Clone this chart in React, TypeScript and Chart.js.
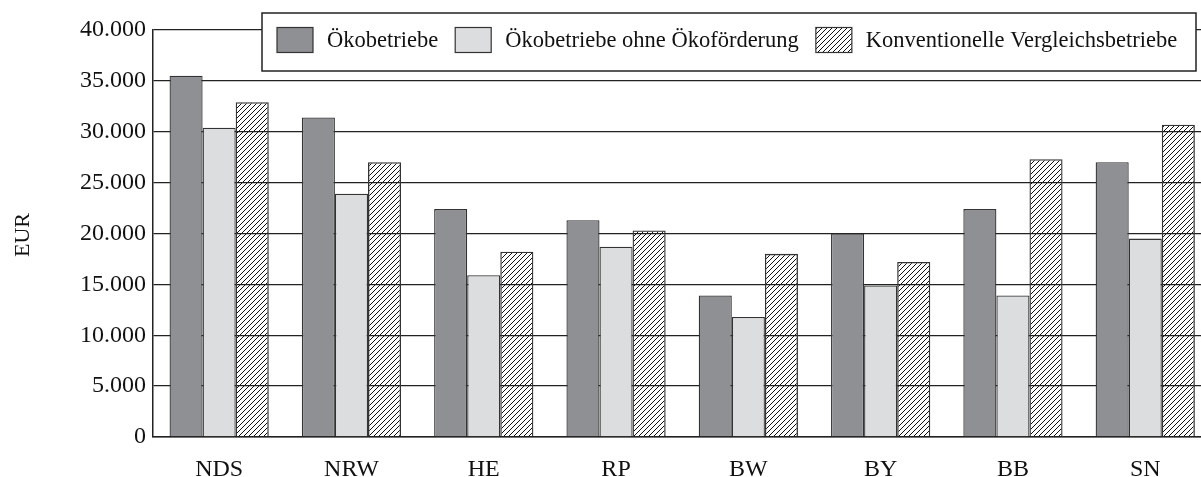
import React, { useEffect, useRef } from "react";
import { Chart, registerables } from "chart.js";

Chart.register(...registerables);

const categories = ["NDS", "NRW", "HE", "RP", "BW", "BY", "BB", "SN"];
const seriesLabels = [
  "Ökobetriebe",
  "Ökobetriebe ohne Ökoförderung",
  "Konventionelle Vergleichsbetriebe",
];
const oeko = [35500, 31400, 22400, 21300, 13900, 20000, 22400, 27000];
const oekoOhne = [30400, 23900, 15900, 18700, 11800, 14900, 13900, 19500];
const konventionell = [32900, 27000, 18200, 20300, 18000, 17200, 27300, 30700];
const yTicks = [0, 5000, 10000, 15000, 20000, 25000, 30000, 35000, 40000];
const yTitle = "EUR";

const FONT = "'Liberation Serif', 'Times New Roman', serif";

function makeHatch(): CanvasPattern | string {
  const c = document.createElement("canvas");
  const s = 5;
  c.width = s;
  c.height = s;
  const ctx = c.getContext("2d");
  if (!ctx) return "#fff";
  ctx.strokeStyle = "#111";
  ctx.lineWidth = 1;
  ctx.beginPath();
  ctx.moveTo(0, s);
  ctx.lineTo(s, 0);
  ctx.moveTo(-s / 2, s / 2);
  ctx.lineTo(s / 2, -s / 2);
  ctx.moveTo(s / 2, s + s / 2);
  ctx.lineTo(s + s / 2, s / 2);
  ctx.stroke();
  const p = ctx.createPattern(c, "repeat");
  return p || "#fff";
}

export default function App() {
  const ref = useRef<HTMLCanvasElement>(null);
  useEffect(() => {
    if (!ref.current) return;
    const hatch = makeHatch();
    const fills: any[] = ["#8f9094", "#dcdddf", hatch];

    const legendPlugin = {
      id: "boxLegend",
      afterDraw(chart: any) {
        const ctx = chart.ctx;
        ctx.save();
        const bx = 262, by = 13, bw = 934, bh = 58;
        ctx.fillStyle = "#fff";
        ctx.fillRect(bx, by, bw, bh);
        ctx.strokeStyle = "#222";
        ctx.lineWidth = 1.5;
        ctx.strokeRect(bx, by, bw, bh);
        ctx.font = `22.5px ${FONT}`;
        ctx.textBaseline = "middle";
        let x = 277;
        const sw = 36, sh = 25, cy = 40;
        chart.data.datasets.forEach((ds: any, i: number) => {
          ctx.fillStyle = fills[i];
          ctx.fillRect(x, cy - sh / 2, sw, sh);
          ctx.strokeStyle = "#333";
          ctx.lineWidth = 1.2;
          ctx.strokeRect(x, cy - sh / 2, sw, sh);
          ctx.fillStyle = "#111";
          ctx.textAlign = "left";
          ctx.fillText(ds.label, x + sw + 14, cy + 1);
          x += sw + 14 + ctx.measureText(ds.label).width + 17;
        });
        // y axis title
        ctx.translate(23, 235);
        ctx.rotate(-Math.PI / 2);
        ctx.textAlign = "center";
        ctx.fillStyle = "#111";
        ctx.font = `22px ${FONT}`;
        ctx.fillText(yTitle, 0, 0);
        ctx.restore();
      },
    };

    const chart = new Chart(ref.current, {
      type: "bar",
      data: {
        labels: categories,
        datasets: [
          { label: seriesLabels[0], data: oeko, backgroundColor: fills[0], borderColor: "#333", borderWidth: 1.3 },
          { label: seriesLabels[1], data: oekoOhne, backgroundColor: fills[1], borderColor: "#333", borderWidth: 1.3 },
          { label: seriesLabels[2], data: konventionell, backgroundColor: fills[2], borderColor: "#333", borderWidth: 1.3 },
        ],
      },
      options: {
        animation: false,
        responsive: false,
        devicePixelRatio: 1,
        layout: { padding: { left: 0, right: 8.6, top: 30, bottom: 0 } },
        datasets: { bar: { categoryPercentage: 0.75, barPercentage: 1 } },
        plugins: { legend: { display: false }, tooltip: { enabled: false }, title: { display: false } },
        scales: {
          x: {
            grid: { display: false, drawTicks: false },
            border: { display: true, color: "#222", width: 1.5 },
            ticks: { color: "#111", font: { family: FONT, size: 24 }, padding: 18 },
            afterFit(s: any) { s.height = 40; },
          },
          y: {
            min: 0,
            max: 40000,
            afterBuildTicks(s: any) { s.ticks = yTicks.map((v) => ({ value: v })); },
            grid: { color: "#222", lineWidth: 1.3, drawTicks: false },
            border: { display: true, color: "#222", width: 1.5 },
            ticks: {
              color: "#111",
              font: { family: FONT, size: 24 },
              padding: 7,
              callback: (v: any) => (Number(v) === 0 ? "0" : Number(v).toLocaleString("de-DE")),
            },
            afterFit(s: any) { s.width = 153; },
          },
        },
      },
      plugins: [legendPlugin],
    });
    return () => chart.destroy();
  }, []);
  return (
    <div style={{ position: "fixed", left: 0, top: 0, width: 1201, height: 477, overflow: "hidden", background: "#fff" }}>
      <canvas ref={ref} width={1220} height={477} style={{ display: "block" }} />
    </div>
  );
}
